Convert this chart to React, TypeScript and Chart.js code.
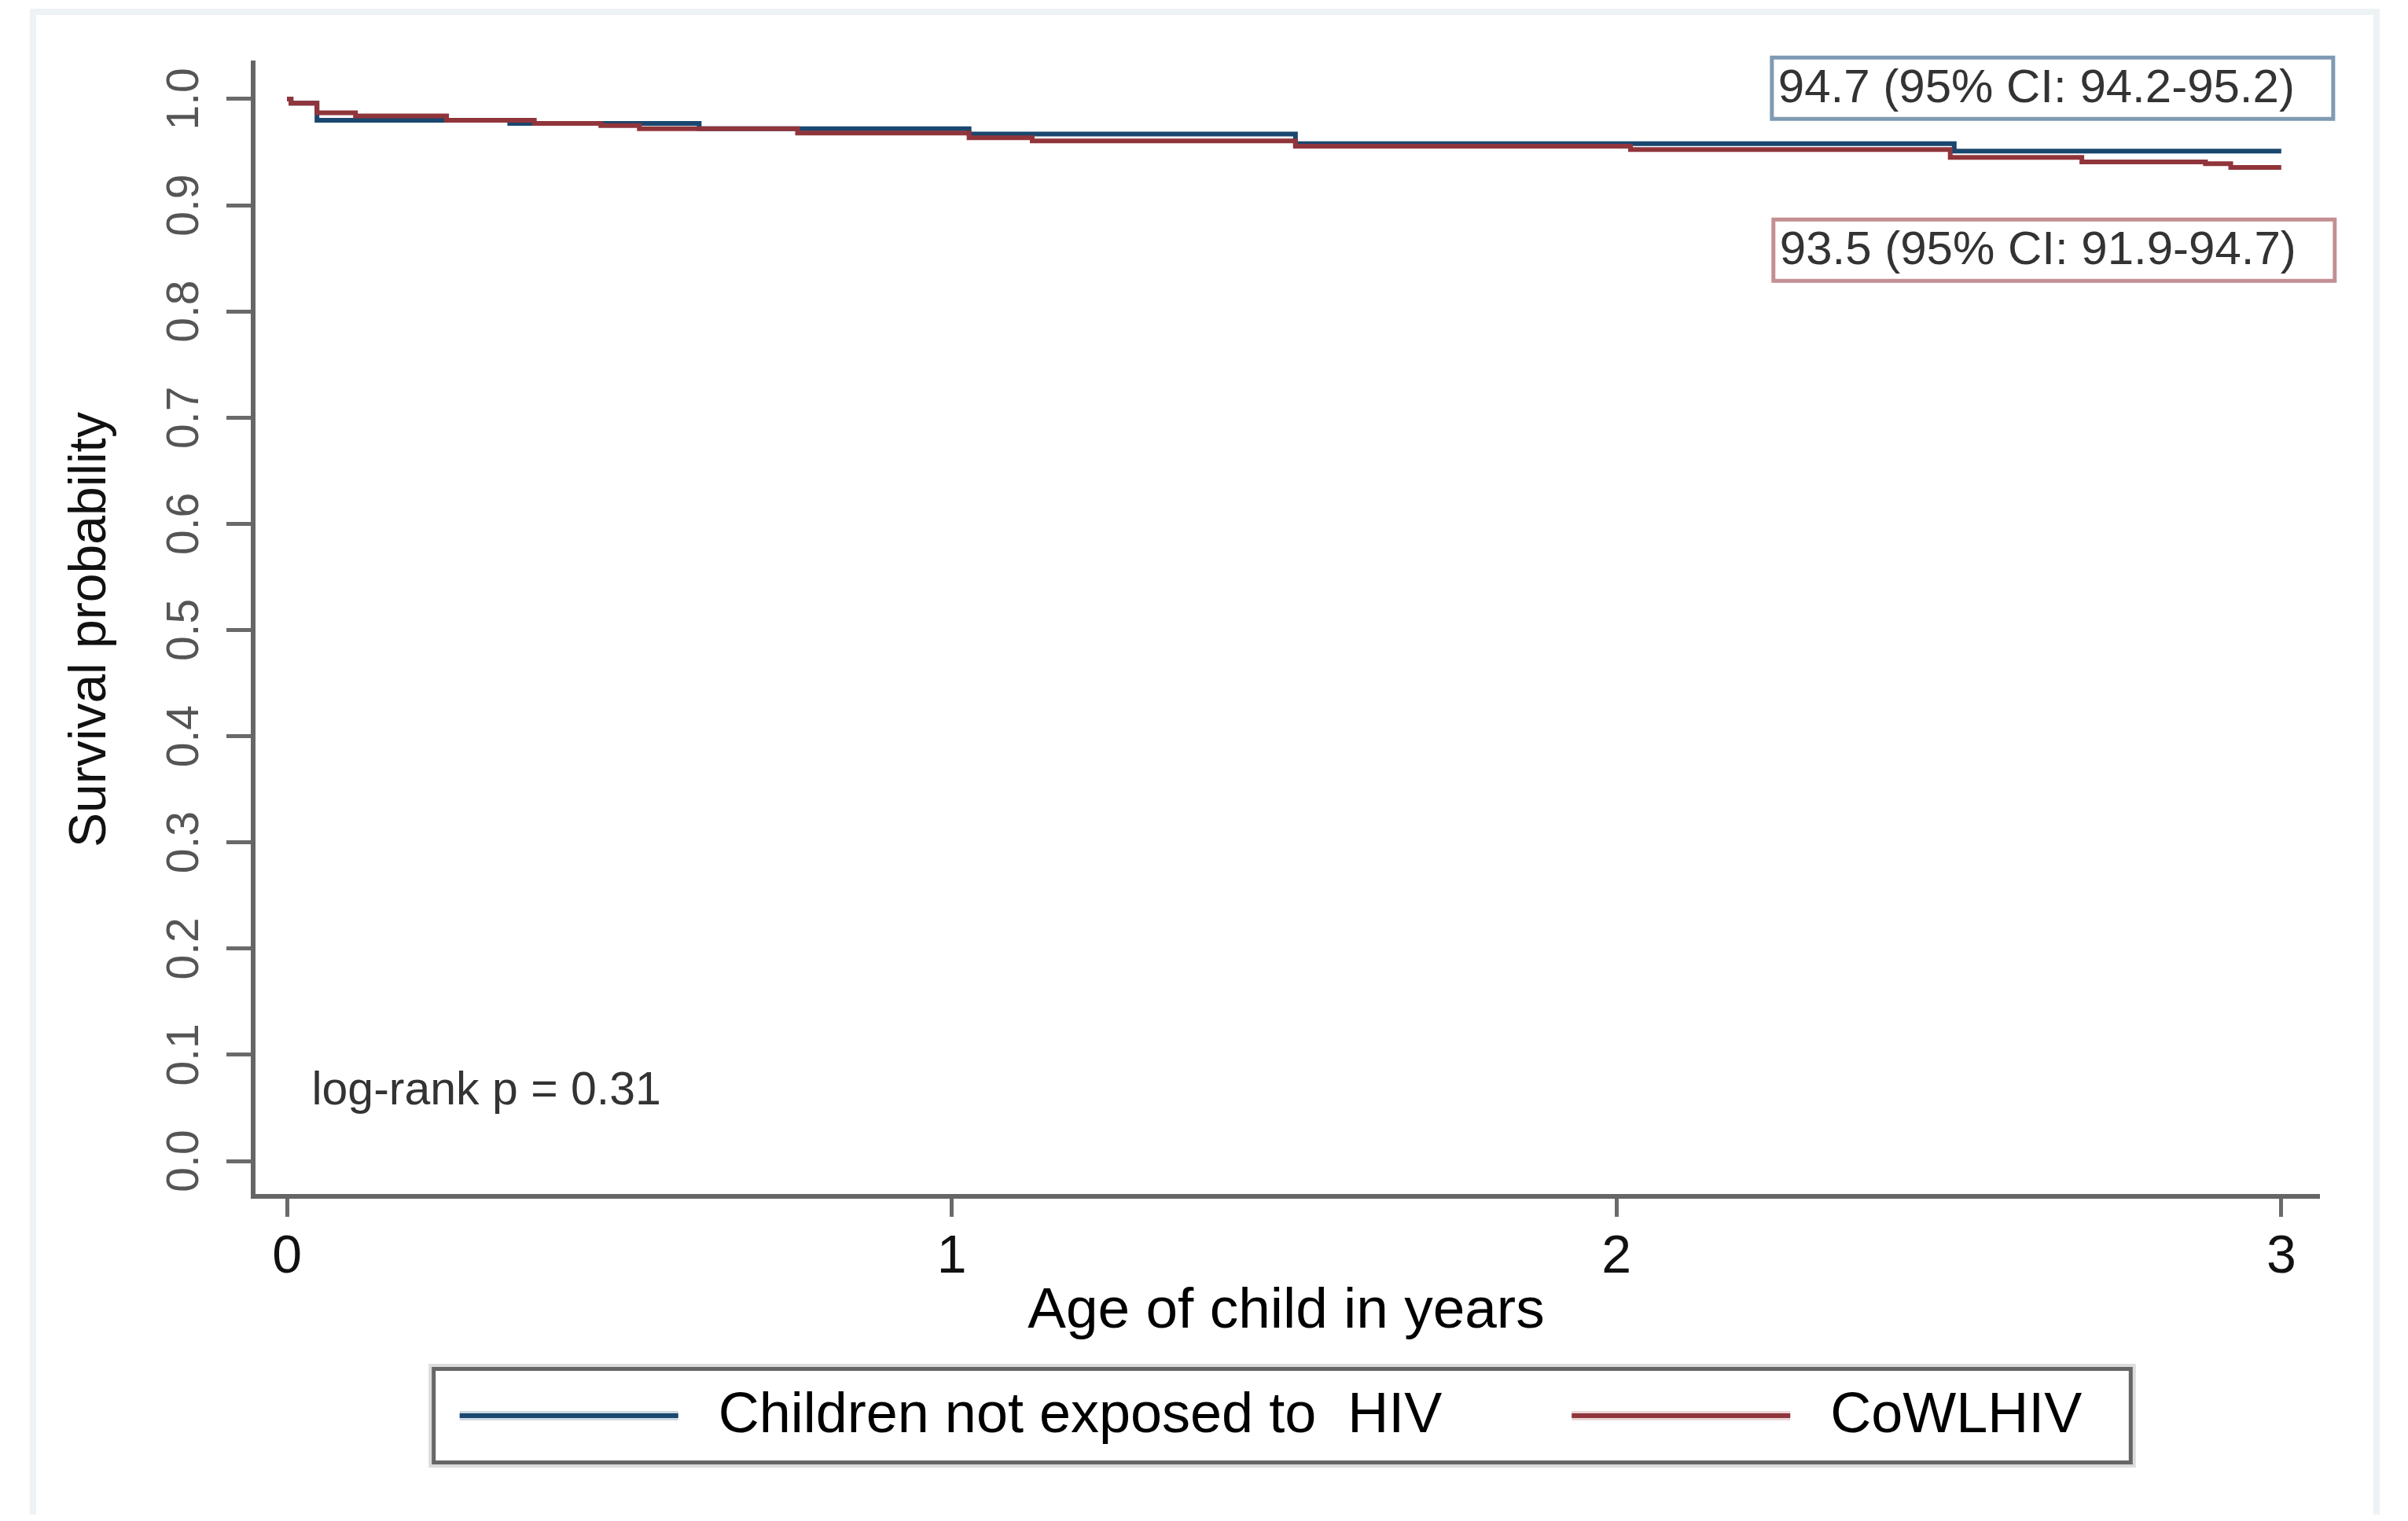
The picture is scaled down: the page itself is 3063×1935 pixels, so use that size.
import React, { useEffect, useRef } from "react";
import { Chart, registerables } from "chart.js";

Chart.register(...registerables);

// ---- data ----
const blueTime = [0, 0.006, 0.045, 0.335, 0.62, 1.026, 1.517, 2.508, 3.0];
const blueSurv = [1.0, 0.996, 0.98, 0.977, 0.972, 0.967, 0.958, 0.951, 0.951];

const redTime = [0, 0.006, 0.045, 0.103, 0.24, 0.372, 0.472, 0.53, 0.768, 1.026, 1.121, 1.517, 2.021, 2.502, 2.7, 2.886, 2.924, 3.0];
const redSurv = [1.0, 0.996, 0.987, 0.984, 0.98, 0.977, 0.975, 0.972, 0.968, 0.9635, 0.9606, 0.9556, 0.9524, 0.945, 0.9408, 0.939, 0.9355, 0.9355];

const seriesLabels = ["Children not exposed to  HIV", "CoWLHIV"];
const seriesColors = ["#1a476f", "#90353b"];
const seriesHalo = ["#cdd7e1", "#ead6d8"];

const xTicks = [0, 1, 2, 3];
const xTickLabels = ["0", "1", "2", "3"];
const yTicks = [0, 0.1, 0.2, 0.3, 0.4, 0.5, 0.6, 0.7, 0.8, 0.9, 1.0];
const yTickLabels = ["0.0", "0.1", "0.2", "0.3", "0.4", "0.5", "0.6", "0.7", "0.8", "0.9", "1.0"];

const annotationTexts = ["94.7 (95% CI: 94.2-95.2)", "93.5 (95% CI: 91.9-94.7)"];
const annotationX = [2.2337, 2.236];
const annotationYTop = [1.039, 0.8865];
const annotationBorder = ["#7f9ab2", "#c48f93"];

const pValueText = "log-rank p = 0.31";
const pValueX = 0.037;
const pValueY = 0.067;

const FONT = '"Liberation Sans", Arial, Helvetica, sans-serif';
const W = 3047;
const H = 1919;

const framePlugin = {
  id: "outerFrame",
  beforeDraw(chart: any) {
    const ctx = chart.ctx;
    ctx.save();
    ctx.fillStyle = "#ffffff";
    ctx.fillRect(0, 0, chart.width, chart.height);
    ctx.strokeStyle = "#edf2f5";
    ctx.lineWidth = 8;
    ctx.beginPath();
    ctx.moveTo(34, chart.height);
    ctx.lineTo(34, 7);
    ctx.lineTo(3015, 7);
    ctx.lineTo(3015, chart.height);
    ctx.stroke();
    ctx.restore();
  },
};

const annotationPlugin = {
  id: "kmAnnotations",
  afterDraw(chart: any) {
    const ctx = chart.ctx;
    const xs = chart.scales.x;
    const ys = chart.scales.y;
    ctx.save();
    // CI boxes
    ctx.font = `60px ${FONT}`;
    ctx.textBaseline = "middle";
    ctx.textAlign = "left";
    annotationTexts.forEach((txt, i) => {
      const left = xs.getPixelForValue(annotationX[i]);
      const top = ys.getPixelForValue(annotationYTop[i]);
      const bw = 714;
      const bh = 78;
      ctx.strokeStyle = annotationBorder[i];
      ctx.lineWidth = 5;
      ctx.strokeRect(left, top, bw, bh);
      ctx.fillStyle = "#333333";
      ctx.fillText(txt, left + 8, top + bh / 2 + 1);
    });
    // log-rank text
    ctx.font = `59px ${FONT}`;
    ctx.fillStyle = "#333333";
    ctx.fillText(pValueText, xs.getPixelForValue(pValueX), ys.getPixelForValue(pValueY) + 2);

    // legend box
    const ca = chart.chartArea;
    const ds = chart.data.datasets;
    ctx.font = `72px ${FONT}`;
    const sampleW = 278;
    const gapST = 51;
    const gapItems = 165;
    const padL = 33;
    const padR = 62;
    const w0 = ctx.measureText(ds[0].label).width;
    const w1 = ctx.measureText(ds[1].label).width;
    const content = sampleW + gapST + w0 + gapItems + sampleW + gapST + w1;
    const frameW = content + padL + padR;
    const cx = (ca.left + ca.right) / 2 - 5;
    const fl = cx - frameW / 2;
    const ft = ca.bottom + 219.5;
    const fh = 119;
    ctx.strokeStyle = "#dcdcdc";
    ctx.lineWidth = 5;
    ctx.strokeRect(fl - 4, ft - 4, frameW + 8, fh + 8);
    ctx.strokeStyle = "#666666";
    ctx.lineWidth = 5;
    ctx.strokeRect(fl, ft, frameW, fh);
    const cy = ft + fh / 2;
    let x = fl + padL;
    [0, 1].forEach((i) => {
      ctx.strokeStyle = seriesHalo[i];
      ctx.lineWidth = 12;
      ctx.beginPath();
      ctx.moveTo(x, cy);
      ctx.lineTo(x + sampleW, cy);
      ctx.stroke();
      ctx.strokeStyle = ds[i].borderColor;
      ctx.lineWidth = 6;
      ctx.beginPath();
      ctx.moveTo(x, cy);
      ctx.lineTo(x + sampleW, cy);
      ctx.stroke();
      x += sampleW + gapST;
      ctx.fillStyle = "#000000";
      ctx.fillText(ds[i].label, x, cy + 1);
      x += (i === 0 ? w0 : w1) + gapItems;
    });
    ctx.restore();
  },
};

export default function App() {
  const ref = useRef<HTMLCanvasElement | null>(null);
  useEffect(() => {
    if (!ref.current) return;
    Chart.defaults.font.family = FONT;
    const chart = new Chart(ref.current, {
      type: "line",
      data: {
        datasets: [
          {
            label: seriesLabels[0],
            data: blueTime.map((t, i) => ({ x: t, y: blueSurv[i] })),
            borderColor: seriesColors[0],
            backgroundColor: seriesColors[0],
            borderWidth: 6,
            pointRadius: 0,
            stepped: true,
            fill: false,
            order: 1,
          },
          {
            label: seriesLabels[1],
            data: redTime.map((t, i) => ({ x: t, y: redSurv[i] })),
            borderColor: seriesColors[1],
            backgroundColor: seriesColors[1],
            borderWidth: 6,
            pointRadius: 0,
            stepped: true,
            fill: false,
            order: 0,
          },
        ],
      },
      options: {
        animation: false,
        responsive: false,
        devicePixelRatio: 1,
        layout: { padding: { left: 0, right: 105, top: 72, bottom: 214 } },
        plugins: {
          legend: { display: false },
          tooltip: { enabled: false },
          title: { display: false },
        },
        scales: {
          x: {
            type: "linear",
            min: -0.051,
            max: 3.057,
            afterBuildTicks: (s: any) => {
              s.ticks = xTicks.map((v) => ({ value: v }));
            },
            afterFit: (s: any) => {
              s.height = 191;
            },
            ticks: {
              callback: (_v: any, i: number) => xTickLabels[i],
              color: "#111111",
              font: { size: 68, family: FONT },
              padding: 11,
              maxRotation: 0,
              minRotation: 0,
              autoSkip: false,
            },
            grid: {
              display: true,
              drawOnChartArea: false,
              drawTicks: true,
              tickLength: 26,
              tickWidth: 5,
              tickColor: "#6a6a6a",
            },
            border: { display: true, color: "#666666", width: 6 },
            title: {
              display: true,
              text: "Age of child in years",
              color: "#000000",
              font: { size: 73, family: FONT },
              padding: { top: 0, bottom: 0 },
            },
          },
          y: {
            type: "linear",
            min: -0.0333,
            max: 1.034,
            afterBuildTicks: (s: any) => {
              s.ticks = yTicks.map((v) => ({ value: v }));
            },
            afterFit: (s: any) => {
              s.width = 314;
            },
            ticks: {
              callback: (_v: any, i: number) => yTickLabels[i],
              color: "#555555",
              font: { size: 57, family: FONT },
              padding: 12,
              minRotation: 90,
              maxRotation: 90,
              crossAlign: "center",
              autoSkip: false,
            },
            grid: {
              display: true,
              drawOnChartArea: false,
              drawTicks: true,
              tickLength: 34,
              tickWidth: 5,
              tickColor: "#6a6a6a",
            },
            border: { display: true, color: "#666666", width: 6 },
            title: {
              display: true,
              text: "Survival probability",
              color: "#111111",
              font: { size: 66, family: FONT },
              padding: { top: 68, bottom: 0 },
            },
          },
        },
      } as any,
      plugins: [framePlugin, annotationPlugin],
    });
    return () => chart.destroy();
  }, []);
  return (
    <div style={{ width: W, height: H }}>
      <canvas ref={ref} width={W} height={H} style={{ display: "block", width: W, height: H }} />
    </div>
  );
}
